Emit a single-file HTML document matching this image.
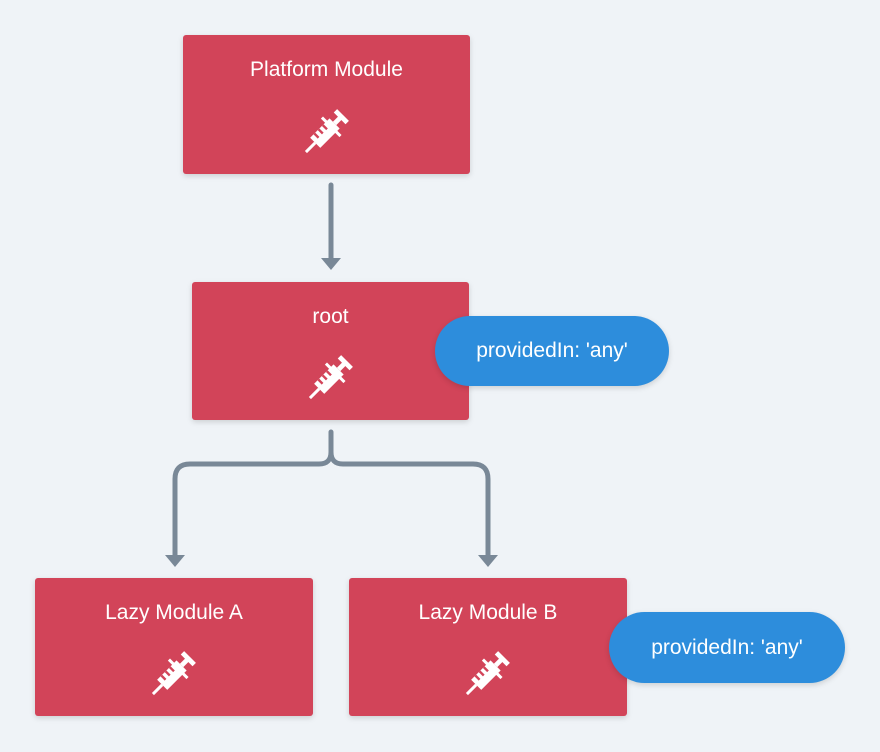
<!DOCTYPE html>
<html><head><meta charset="utf-8"><style>
body{margin:0;width:880px;height:752px;background:#eff3f7;position:relative;overflow:hidden;font-family:"Liberation Sans",sans-serif}
.b{position:absolute;background:#d24459;border-radius:3px;box-shadow:0 2px 6px rgba(0,0,0,.15);color:#fff;text-align:center;font-size:21px}
.b .t{margin-top:23px}
.b svg{position:absolute;left:50%;margin-left:-31px;bottom:12px}
.p{position:absolute;background:#2d8ddc;border-radius:36px;color:#fff;font-size:21px;text-align:center;box-shadow:0 2px 6px rgba(0,0,0,.15)}
</style></head><body>
<svg width="0" height="0" style="position:absolute"><defs>
<g id="s" fill="#fff" stroke="#fff">
<g transform="rotate(-45 26 26)">
<rect x="12" y="20" width="23" height="12" stroke="none"/>
<line x1="1" y1="26" x2="12" y2="26" stroke-width="2.5"/>
<line x1="35" y1="26" x2="43" y2="26" stroke-width="4"/>
<line x1="43" y1="19" x2="43" y2="33" stroke-width="4"/>
<line x1="31" y1="15" x2="31" y2="37" stroke-width="2.5"/>
<line x1="17" y1="20" x2="17" y2="25" stroke="#d24459" stroke-width="2"/>
<line x1="22" y1="20" x2="22" y2="25" stroke="#d24459" stroke-width="2"/>
<line x1="27" y1="20" x2="27" y2="25" stroke="#d24459" stroke-width="2"/>
</g></g></defs></svg>
<div class="b" style="left:183px;top:35px;width:287px;height:139px"><div class="t">Platform Module</div><svg width="62" height="62" viewBox="0 0 52 52"><use href="#s"/></svg></div>
<div class="b" style="left:192px;top:282px;width:277px;height:138px"><div class="t">root</div><svg width="62" height="62" viewBox="0 0 52 52"><use href="#s"/></svg></div>
<div class="b" style="left:35px;top:578px;width:278px;height:138px"><div class="t">Lazy Module A</div><svg width="62" height="62" viewBox="0 0 52 52"><use href="#s"/></svg></div>
<div class="b" style="left:349px;top:578px;width:278px;height:138px"><div class="t">Lazy Module B</div><svg width="62" height="62" viewBox="0 0 52 52"><use href="#s"/></svg></div>
<div class="p" style="left:435px;top:316px;width:234px;height:70px;line-height:70px">providedIn: 'any'</div>
<div class="p" style="left:609px;top:612px;width:236px;height:71px;line-height:71px">providedIn: 'any'</div>
<svg width="880" height="752" style="position:absolute;left:0;top:0">
<g stroke="#798897" stroke-width="5" fill="none" stroke-linecap="round">
<line x1="331" y1="185" x2="331" y2="260"/>
<path d="M331 432 V452 Q331 464 319 464 H190 Q175 464 175 479 V556"/>
<path d="M331 452 Q331 464 343 464 H473 Q488 464 488 479 V556"/>
</g>
<g fill="#798897">
<path d="M321 258 H341 L331 270 Z"/>
<path d="M165 555 H185 L175 567 Z"/>
<path d="M478 555 H498 L488 567 Z"/>
</g></svg>
</body></html>
